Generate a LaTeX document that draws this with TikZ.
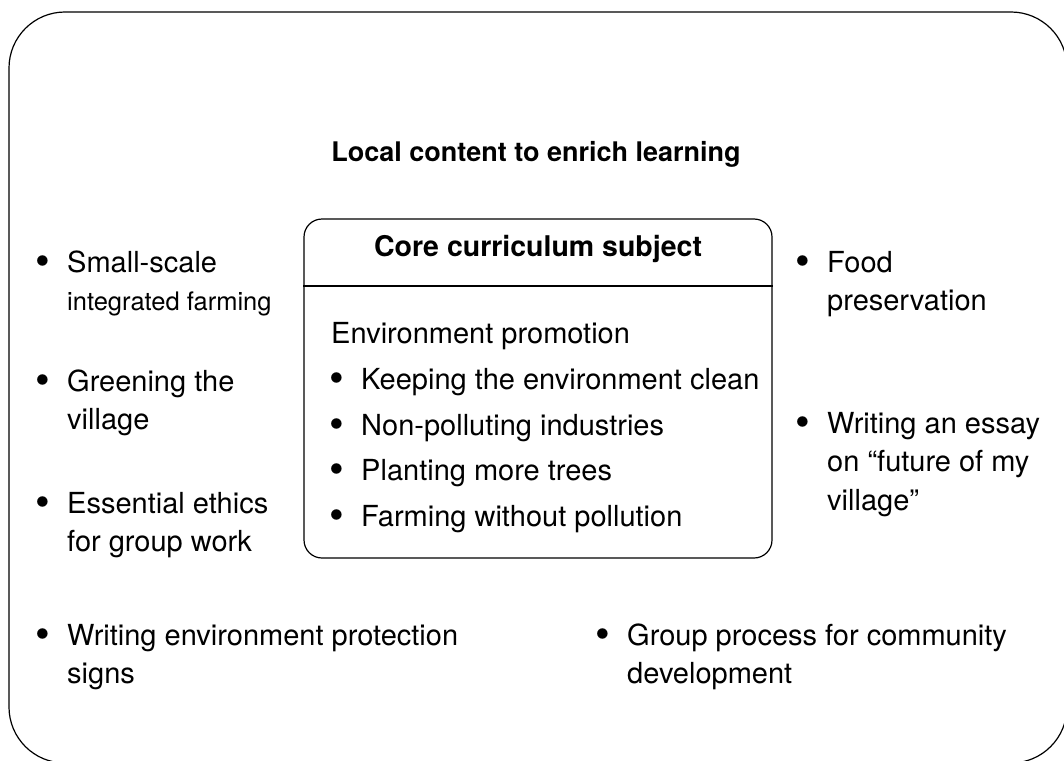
\documentclass[tikz,border=0pt]{standalone}
\usepackage{fontspec}
\setmainfont{TeX Gyre Heros}
\usepackage{graphicx}
\usepackage{tikz}

\newcommand{\dotmark}{\raisebox{-3pt}{\scalebox{1.45}{\textbullet}}}
\newcommand{\bitem}[1]{\begin{tabular}[t]{@{}l@{\hspace{16.7pt}}l@{}}\dotmark & #1\end{tabular}}

\begin{document}
\begin{tikzpicture}[x=1pt,y=1pt,yscale=-1,xscale=1,
	item/.style={anchor=base west,inner sep=0pt,font=\fontsize{29}{38.5}\selectfont},
	boxline/.style={line width=1.2pt}]
	\useasboundingbox (0,0) rectangle (1064,760);

	%Shape: Rounded Rectangle [outer frame]
	\draw [boxline,rounded corners=56pt] (9,12) rectangle (1067,763);
	%Shape: Rounded Rectangle [core box]
	\node [boxline,draw,rounded corners=18pt,minimum width=468pt,minimum height=339pt,inner sep=0pt] (core) at (538,388.5) {};
	%Straight Lines [core divider]
	\draw [boxline] (core.west |- 0,286) -- (core.east |- 0,286);

	% Text Node
	\node [anchor=base,inner sep=0pt,font=\fontsize{27}{32}\selectfont\bfseries] (heading) at (536,161) {Local content to enrich learning};
	% Text Node
	\node [anchor=base,inner sep=0pt,font=\fontsize{28.5}{34}\selectfont\bfseries] (coretitle) at (538,256) {Core curriculum subject};
	% Text Node
	\node [item] (promo) at (331,343) {Environment promotion};
	% Text Node
	\node [item] (clean) at (329.6,389) {\bitem{Keeping the environment clean}};
	% Text Node
	\node [item] (industry) at (329.6,435) {\bitem{Non-polluting industries}};
	% Text Node
	\node [item] (trees) at (329.6,480) {\bitem{Planting more trees}};
	% Text Node
	\node [item] (pollution) at (329.6,526) {\bitem{Farming without pollution}};

	% Text Node
	\node [item] (farming) at (35.6,272) {\bitem{Small-scale\\ & {\fontsize{25.5}{38.5}\selectfont integrated farming}}};
	% Text Node
	\node [item] (greening) at (35.6,391) {\bitem{Greening the\\ & village}};
	% Text Node
	\node [item] (ethics) at (35.6,513) {\bitem{Essential ethics\\ & for group work}};
	% Text Node
	\node [item] (food) at (795.6,272) {\bitem{Food\\ & preservation}};
	% Text Node
	\node [item] (essay) at (795.6,433) {\bitem{Writing an essay\\ & on ``future of my\\ & village''}};
	% Text Node
	\node [item] (signs) at (35.6,645) {\bitem{Writing environment protection\\ & signs}};
	% Text Node
	\node [item] (group) at (595.6,645) {\bitem{Group process for community\\ & development}};

\end{tikzpicture}
\end{document}
